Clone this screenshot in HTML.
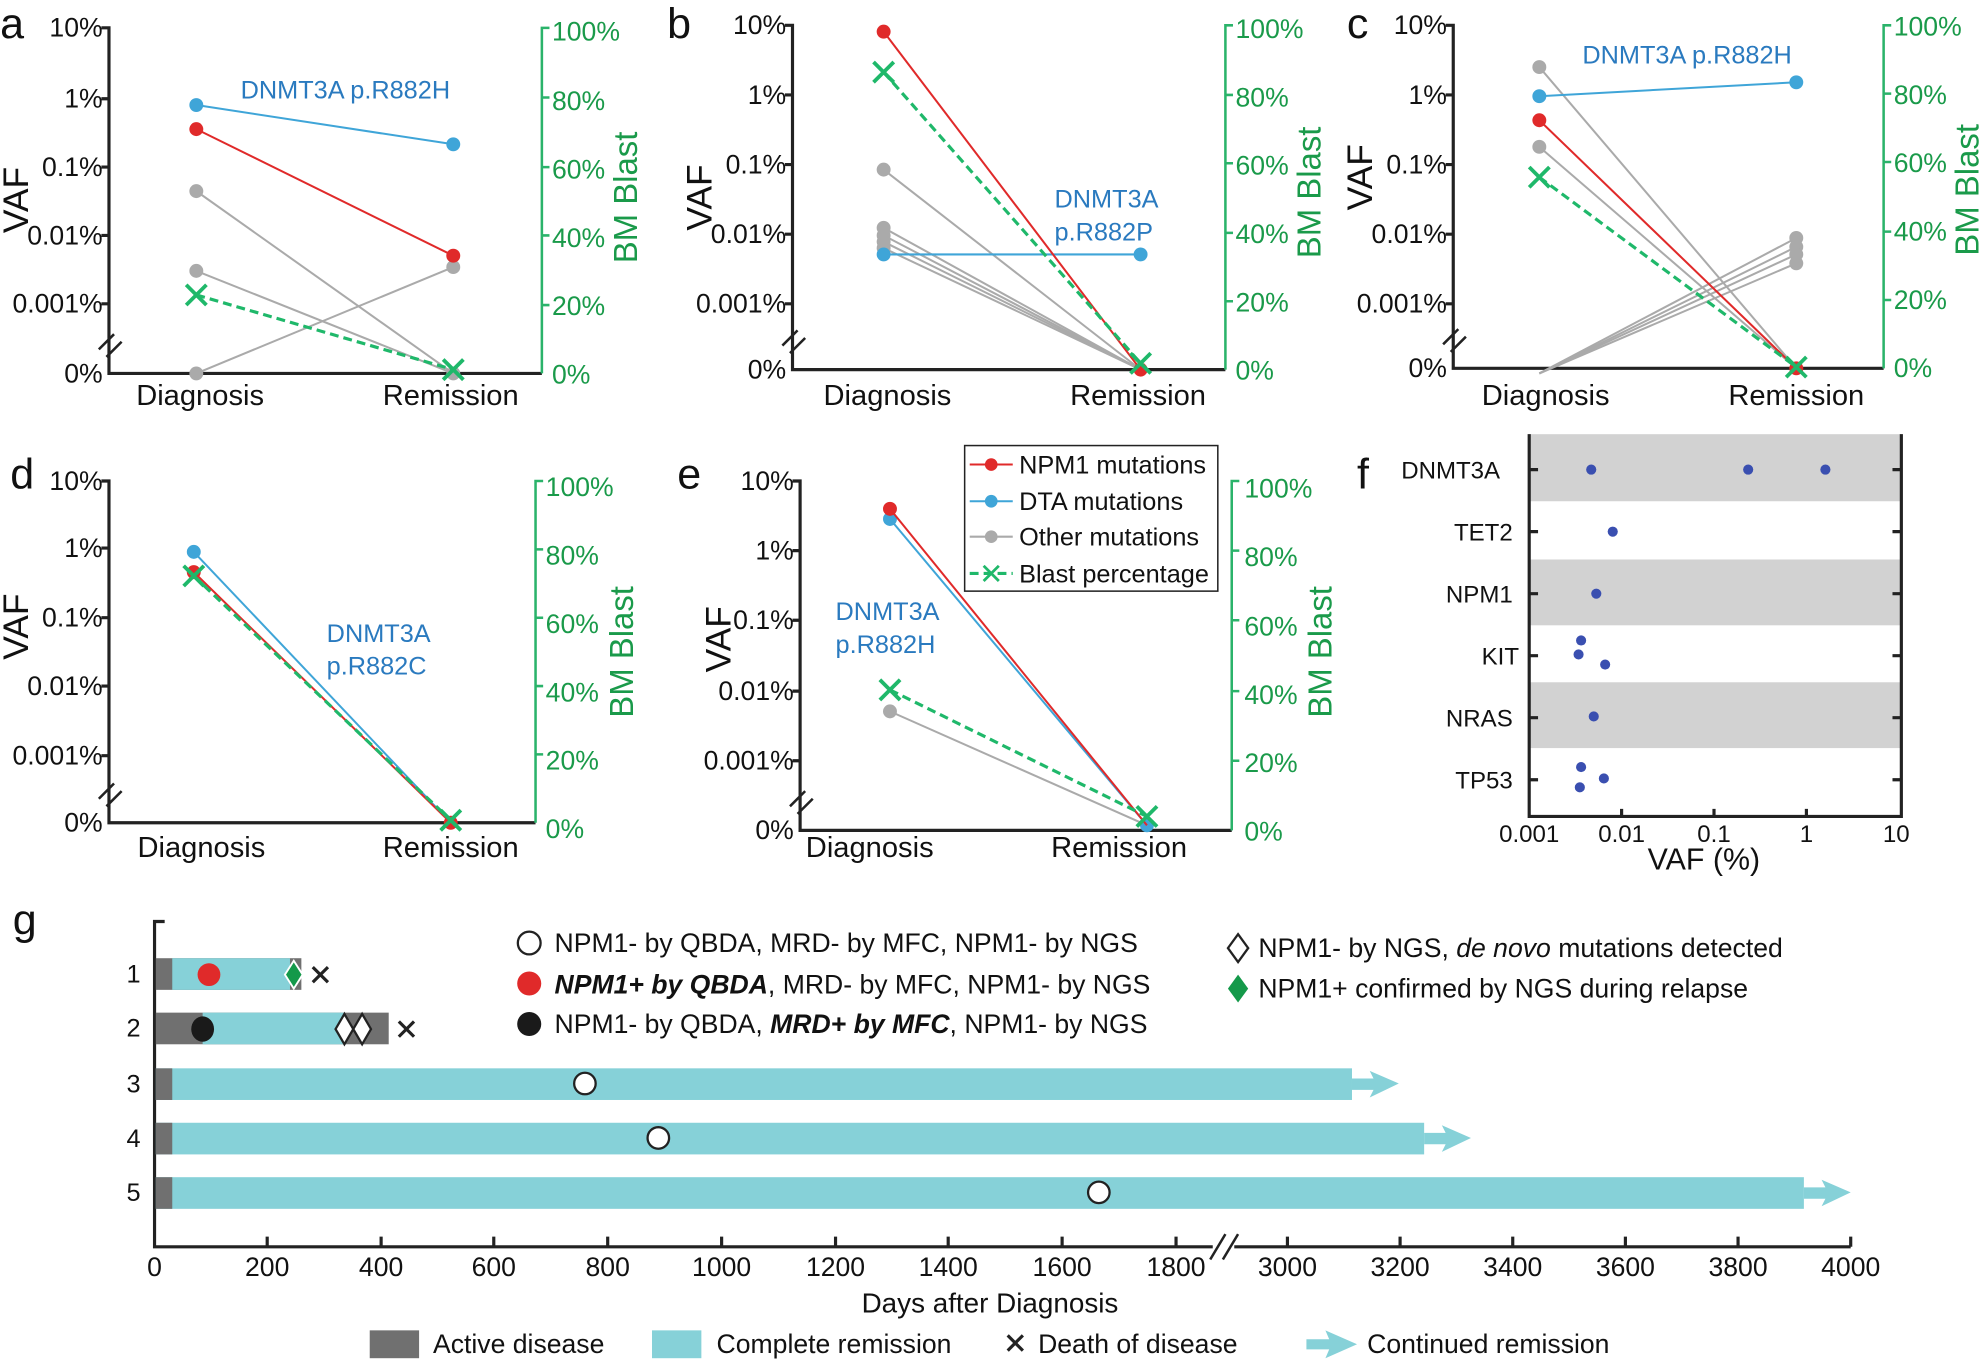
<!DOCTYPE html>
<html><head><meta charset="utf-8"><style>html,body{margin:0;padding:0;background:#fff}svg{display:block}text{font-family:"Liberation Sans",Arial,sans-serif}</style></head>
<body>
<svg width="1985" height="1362" viewBox="0 0 1568 1076" xmlns="http://www.w3.org/2000/svg">
<defs>
<g id="xm"><path d="M-8,-8L8,8M-8,8L8,-8" stroke="#1fb86a" stroke-width="3"/></g>
</defs>
<style>
.ax{stroke:#222;stroke-width:2.5;fill:none}
.gx{stroke:#2ab36a;stroke-width:2;fill:none}
.t{font-size:20px;fill:#111}
.tk{font-size:21px;fill:#111}
.xl{font-size:23px;fill:#111}
.g{font-size:21px;fill:#1a9a4a}
.bl{font-size:20px;fill:#2a7abf}
.pl{font-size:34px;fill:#111}
.red{stroke:#e02a2a;stroke-width:1.6}
.blu{stroke:#3fa5d8;stroke-width:1.6}
.gry{stroke:#aaa;stroke-width:1.6}
.grn{stroke:#1fb86a;stroke-width:2.5;stroke-dasharray:7,4}
</style>

<!-- Panel a -->
<text x="0" y="30" class="pl">a</text>
<path class="ax" d="M80,22H86V295H428M80,78H86M80,132H86M80,186H86M80,240H86"/>
<path d="M78,276L90,264M84,282L96,270" stroke="#222" stroke-width="2"/>
<path class="gx" d="M434,22H428V295M428,77H434M428,132H434M428,186H434M428,241H434"/>
<g class="tk" text-anchor="end"><text x="81" y="29">10%</text><text x="81" y="85">1%</text><text x="81" y="139">0.1%</text><text x="81" y="193">0.01%</text><text x="81" y="247">0.001%</text><text x="81" y="302">0%</text></g>
<g class="g"><text x="436" y="32">100%</text><text x="436" y="87">80%</text><text x="436" y="141">60%</text><text x="436" y="195">40%</text><text x="436" y="249">20%</text><text x="436" y="303">0%</text></g>
<text transform="translate(22,158) rotate(-90)" font-size="28" text-anchor="middle" fill="#111">VAF</text>
<text transform="translate(503,156) rotate(-90)" font-size="26" text-anchor="middle" fill="#1a9a4a">BM Blast</text>
<text x="158" y="320" class="xl" text-anchor="middle">Diagnosis</text><text x="356" y="320" class="xl" text-anchor="middle">Remission</text>
<text x="190" y="78" class="bl">DNMT3A p.R882H</text>
<line x1="155" y1="151" x2="358" y2="295" class="gry"/><line x1="155" y1="214" x2="358" y2="295" class="gry"/><line x1="155" y1="295" x2="358" y2="211" class="gry"/>
<g fill="#aaa"><circle cx="155" cy="151" r="5.5"/><circle cx="155" cy="214" r="5.5"/><circle cx="155" cy="295" r="5.5"/><circle cx="358" cy="211" r="5.5"/><circle cx="358" cy="295" r="5.5"/></g>
<line x1="155" y1="83" x2="358" y2="114" class="blu"/><circle cx="155" cy="83" r="5.5" fill="#3fa5d8"/><circle cx="358" cy="114" r="5.5" fill="#3fa5d8"/>
<line x1="155" y1="102" x2="358" y2="202" class="red"/><circle cx="155" cy="102" r="5.5" fill="#e02a2a"/><circle cx="358" cy="202" r="5.5" fill="#e02a2a"/>
<line x1="155" y1="233" x2="358" y2="292" class="grn"/><use href="#xm" x="155" y="233"/><use href="#xm" x="358" y="292"/>

<!-- Panel b -->
<text x="527" y="30" class="pl">b</text>
<path class="ax" d="M620,20H626V292H968M620,75H626M620,130H626M620,185H626M620,240H626"/>
<path d="M618,273L630,261M624,279L636,267" stroke="#222" stroke-width="2"/>
<path class="gx" d="M974,20H968V292M968,75H974M968,129H974M968,184H974M968,238H974"/>
<g class="tk" text-anchor="end"><text x="621" y="27">10%</text><text x="621" y="82">1%</text><text x="621" y="137">0.1%</text><text x="621" y="192">0.01%</text><text x="621" y="247">0.001%</text><text x="621" y="299">0%</text></g>
<g class="g"><text x="976" y="30">100%</text><text x="976" y="84">80%</text><text x="976" y="138">60%</text><text x="976" y="192">40%</text><text x="976" y="246">20%</text><text x="976" y="300">0%</text></g>
<text transform="translate(562,156) rotate(-90)" font-size="28" text-anchor="middle" fill="#111">VAF</text>
<text transform="translate(1043,152) rotate(-90)" font-size="26" text-anchor="middle" fill="#1a9a4a">BM Blast</text>
<text x="701" y="320" class="xl" text-anchor="middle">Diagnosis</text><text x="899" y="320" class="xl" text-anchor="middle">Remission</text>
<text x="833" y="164" class="bl">DNMT3A</text><text x="833" y="190" class="bl">p.R882P</text>
<g class="gry"><line x1="698" y1="134" x2="901" y2="292"/><line x1="698" y1="180" x2="901" y2="292"/><line x1="698" y1="186" x2="901" y2="292"/><line x1="698" y1="191" x2="901" y2="292"/><line x1="698" y1="196" x2="901" y2="292"/></g>
<g fill="#aaa"><circle cx="698" cy="134" r="5.5"/><circle cx="698" cy="180" r="5.5"/><circle cx="698" cy="186" r="5.5"/><circle cx="698" cy="191" r="5.5"/><circle cx="698" cy="196" r="5.5"/></g>
<line x1="698" y1="201" x2="901" y2="201" class="blu"/><circle cx="698" cy="201" r="5.5" fill="#3fa5d8"/><circle cx="901" cy="201" r="5.5" fill="#3fa5d8"/>
<line x1="698" y1="25" x2="901" y2="292" class="red"/><circle cx="698" cy="25" r="5.5" fill="#e02a2a"/><circle cx="901" cy="292" r="5.5" fill="#e02a2a"/>
<line x1="698" y1="57" x2="901" y2="287" class="grn"/><use href="#xm" x="698" y="57"/><use href="#xm" x="901" y="287"/>

<!-- Panel c -->
<text x="1064" y="30" class="pl">c</text>
<path class="ax" d="M1142,20H1148V291H1488M1142,75H1148M1142,130H1148M1142,185H1148M1142,240H1148"/>
<path d="M1140,272L1152,260M1146,278L1158,266" stroke="#222" stroke-width="2"/>
<path class="gx" d="M1494,20H1488V291M1488,74H1494M1488,128H1494M1488,183H1494M1488,237H1494"/>
<g class="tk" text-anchor="end"><text x="1143" y="27">10%</text><text x="1143" y="82">1%</text><text x="1143" y="137">0.1%</text><text x="1143" y="192">0.01%</text><text x="1143" y="247">0.001%</text><text x="1143" y="298">0%</text></g>
<g class="g"><text x="1496" y="28">100%</text><text x="1496" y="82">80%</text><text x="1496" y="136">60%</text><text x="1496" y="190">40%</text><text x="1496" y="244">20%</text><text x="1496" y="298">0%</text></g>
<text transform="translate(1084,140) rotate(-90)" font-size="28" text-anchor="middle" fill="#111">VAF</text>
<text transform="translate(1563,150) rotate(-90)" font-size="26" text-anchor="middle" fill="#1a9a4a">BM Blast</text>
<text x="1221" y="320" class="xl" text-anchor="middle">Diagnosis</text><text x="1419" y="320" class="xl" text-anchor="middle">Remission</text>
<text x="1250" y="50" class="bl">DNMT3A p.R882H</text>
<g class="gry"><line x1="1216" y1="53" x2="1419" y2="291"/><line x1="1216" y1="116" x2="1419" y2="291"/><line x1="1216" y1="295" x2="1419" y2="188"/><line x1="1216" y1="295" x2="1419" y2="195"/><line x1="1216" y1="295" x2="1419" y2="201"/><line x1="1216" y1="295" x2="1419" y2="208"/></g>
<g fill="#aaa"><circle cx="1216" cy="53" r="5.5"/><circle cx="1216" cy="116" r="5.5"/><circle cx="1419" cy="188" r="5.5"/><circle cx="1419" cy="195" r="5.5"/><circle cx="1419" cy="201" r="5.5"/><circle cx="1419" cy="208" r="5.5"/></g>
<line x1="1216" y1="76" x2="1419" y2="65" class="blu"/><circle cx="1216" cy="76" r="5.5" fill="#3fa5d8"/><circle cx="1419" cy="65" r="5.5" fill="#3fa5d8"/>
<line x1="1216" y1="95" x2="1419" y2="291" class="red"/><circle cx="1216" cy="95" r="5.5" fill="#e02a2a"/><circle cx="1419" cy="291" r="5.5" fill="#e02a2a"/>
<line x1="1216" y1="140" x2="1419" y2="290" class="grn"/><use href="#xm" x="1216" y="140"/><use href="#xm" x="1419" y="290"/>

<!-- Panel d -->
<text x="8" y="386" class="pl">d</text>
<path class="ax" d="M80,380H86V650H423M80,433H86M80,488H86M80,542H86M80,597H86"/>
<path d="M78,631L90,619M84,637L96,625" stroke="#222" stroke-width="2"/>
<path class="gx" d="M429,380H423V650M423,434H429M423,488H429M423,542H429M423,596H429"/>
<g class="tk" text-anchor="end"><text x="81" y="387">10%</text><text x="81" y="440">1%</text><text x="81" y="495">0.1%</text><text x="81" y="549">0.01%</text><text x="81" y="604">0.001%</text><text x="81" y="657">0%</text></g>
<g class="g"><text x="431" y="392">100%</text><text x="431" y="446">80%</text><text x="431" y="500">60%</text><text x="431" y="554">40%</text><text x="431" y="608">20%</text><text x="431" y="662">0%</text></g>
<text transform="translate(22,495) rotate(-90)" font-size="28" text-anchor="middle" fill="#111">VAF</text>
<text transform="translate(500,515) rotate(-90)" font-size="26" text-anchor="middle" fill="#1a9a4a">BM Blast</text>
<text x="159" y="677" class="xl" text-anchor="middle">Diagnosis</text><text x="356" y="677" class="xl" text-anchor="middle">Remission</text>
<text x="258" y="507" class="bl">DNMT3A</text><text x="258" y="533" class="bl">p.R882C</text>
<line x1="153" y1="436" x2="356" y2="650" class="blu"/><circle cx="153" cy="436" r="5.5" fill="#3fa5d8"/>
<line x1="153" y1="452" x2="356" y2="650" class="red"/><circle cx="153" cy="452" r="5.5" fill="#e02a2a"/><circle cx="356" cy="650" r="5.5" fill="#e02a2a"/>
<line x1="153" y1="455" x2="356" y2="648" class="grn"/><use href="#xm" x="153" y="455"/><use href="#xm" x="356" y="648"/>

<!-- Panel e -->
<text x="535" y="386" class="pl">e</text>
<path class="ax" d="M626,380H632V656H973M626,435H632M626,490H632M626,546H632M626,601H632"/>
<path d="M624,637L636,625M630,643L642,631" stroke="#222" stroke-width="2"/>
<path class="gx" d="M979,380H973V656M973,435H979M973,490H979M973,546H979M973,601H979"/>
<g class="tk" text-anchor="end"><text x="627" y="387">10%</text><text x="627" y="442">1%</text><text x="627" y="497">0.1%</text><text x="627" y="553">0.01%</text><text x="627" y="608">0.001%</text><text x="627" y="663">0%</text></g>
<g class="g"><text x="983" y="393">100%</text><text x="983" y="447">80%</text><text x="983" y="502">60%</text><text x="983" y="556">40%</text><text x="983" y="610">20%</text><text x="983" y="664">0%</text></g>
<text transform="translate(577,505) rotate(-90)" font-size="28" text-anchor="middle" fill="#111">VAF</text>
<text transform="translate(1052,515) rotate(-90)" font-size="26" text-anchor="middle" fill="#1a9a4a">BM Blast</text>
<text x="687" y="677" class="xl" text-anchor="middle">Diagnosis</text><text x="884" y="677" class="xl" text-anchor="middle">Remission</text>
<text x="660" y="490" class="bl">DNMT3A</text><text x="660" y="516" class="bl">p.R882H</text>
<line x1="703" y1="562" x2="906" y2="652" class="gry"/><circle cx="703" cy="562" r="5.5" fill="#aaa"/>
<line x1="703" y1="410" x2="906" y2="652" class="blu"/><circle cx="703" cy="410" r="5.5" fill="#3fa5d8"/><circle cx="906" cy="652" r="5.5" fill="#3fa5d8"/>
<line x1="703" y1="402" x2="906" y2="652" class="red"/><circle cx="703" cy="402" r="5.5" fill="#e02a2a"/>
<line x1="703" y1="545" x2="906" y2="645" class="grn"/><use href="#xm" x="703" y="545"/><use href="#xm" x="906" y="645"/>
<!-- legend -->
<rect x="762" y="352" width="200" height="115" fill="#fff" stroke="#222" stroke-width="1.2"/>
<line x1="766" y1="367" x2="800" y2="367" class="red"/><circle cx="783" cy="367" r="5" fill="#e02a2a"/><text x="805" y="374" class="t">NPM1 mutations</text>
<line x1="766" y1="396" x2="800" y2="396" class="blu"/><circle cx="783" cy="396" r="5" fill="#3fa5d8"/><text x="805" y="403" class="t">DTA mutations</text>
<line x1="766" y1="424" x2="800" y2="424" class="gry"/><circle cx="783" cy="424" r="5" fill="#aaa"/><text x="805" y="431" class="t">Other mutations</text>
<line x1="766" y1="453" x2="800" y2="453" class="grn" stroke-width="2"/><path d="M777,447L789,459M777,459L789,447" stroke="#1fb86a" stroke-width="2.2"/><text x="805" y="460" class="t">Blast percentage</text>

<!-- Panel f -->
<text x="1072" y="386" class="pl">f</text>
<rect x="1208" y="343" width="294" height="53" fill="#d2d2d2"/>
<rect x="1208" y="442" width="294" height="52" fill="#d2d2d2"/>
<rect x="1208" y="539" width="294" height="52" fill="#d2d2d2"/>
<path class="ax" stroke-width="2" d="M1208,343V645H1502V343M1208,371H1215M1208,420H1215M1208,469H1215M1208,518H1215M1208,567H1215M1208,616H1215M1502,371H1495M1502,420H1495M1502,469H1495M1502,518H1495M1502,567H1495M1502,616H1495M1281,645V639M1354,645V639M1427,645V639"/>
<g text-anchor="end" style="font-size:19px;fill:#111"><text x="1185" y="378">DNMT3A</text><text x="1195" y="427">TET2</text><text x="1195" y="476">NPM1</text><text x="1200" y="525">KIT</text><text x="1195" y="574">NRAS</text><text x="1195" y="623">TP53</text></g>
<g text-anchor="middle" style="font-size:19px;fill:#111"><text x="1208" y="665">0.001</text><text x="1281" y="665">0.01</text><text x="1354" y="665">0.1</text><text x="1427" y="665">1</text><text x="1498" y="665">10</text></g>
<text x="1346" y="687" text-anchor="middle" style="font-size:24px;fill:#111">VAF (%)</text>
<g fill="#3a4fb0"><circle cx="1257" cy="371" r="4"/><circle cx="1381" cy="371" r="4"/><circle cx="1442" cy="371" r="4"/><circle cx="1274" cy="420" r="4"/><circle cx="1261" cy="469" r="4"/><circle cx="1249" cy="506" r="4"/><circle cx="1247" cy="517" r="4"/><circle cx="1268" cy="525" r="4"/><circle cx="1259" cy="566" r="4"/><circle cx="1249" cy="606" r="4"/><circle cx="1248" cy="622" r="4"/><circle cx="1267" cy="615" r="4"/></g>

<!-- Panel g -->
<text x="10" y="738" class="pl">g</text>
<path class="ax" d="M130,728H122V985H958M975,985H1462M211,985V977M301,985V977M390,985V977M480,985V977M570,985V977M660,985V977M749,985V977M839,985V977M929,985V977M1017,985V977M1106,985V977M1195,985V977M1284,985V977M1373,985V977M1462,985V977"/>
<path d="M956,995L968,975M966,995L978,975" stroke="#222" stroke-width="2"/>
<g class="tk" text-anchor="middle"><text x="122" y="1008">0</text><text x="211" y="1008">200</text><text x="301" y="1008">400</text><text x="390" y="1008">600</text><text x="480" y="1008">800</text><text x="570" y="1008">1000</text><text x="660" y="1008">1200</text><text x="749" y="1008">1400</text><text x="839" y="1008">1600</text><text x="929" y="1008">1800</text><text x="1017" y="1008">3000</text><text x="1106" y="1008">3200</text><text x="1195" y="1008">3400</text><text x="1284" y="1008">3600</text><text x="1373" y="1008">3800</text><text x="1462" y="1008">4000</text></g>
<text x="782" y="1037" text-anchor="middle" style="font-size:22px;fill:#111">Days after Diagnosis</text>
<g class="t" text-anchor="end"><text x="111" y="776">1</text><text x="111" y="819">2</text><text x="111" y="863">3</text><text x="111" y="906">4</text><text x="111" y="949">5</text></g>
<!-- row1 -->
<rect x="123" y="757" width="115" height="25" fill="#707070"/><rect x="136" y="757" width="93" height="25" fill="#86d1d8"/>
<circle cx="165" cy="770" r="9" fill="#e02a2a"/>
<path d="M232,759L239,770L232,781L225,770Z" fill="#14994a" stroke="#fff" stroke-width="1.5"/>
<path d="M247,764L259,776M247,776L259,764" stroke="#222" stroke-width="2.5"/>
<!-- row2 -->
<rect x="123" y="800" width="184" height="25" fill="#707070"/><rect x="160" y="800" width="112" height="25" fill="#86d1d8"/>
<ellipse cx="160" cy="813" rx="9" ry="10" fill="#1a1a1a"/>
<path d="M272,801L279,813L272,825L265,813Z M286,801L293,813L286,825L279,813Z" fill="#fff" stroke="#222" stroke-width="1.8"/>
<path d="M315,807L327,819M315,819L327,807" stroke="#222" stroke-width="2.5"/>
<!-- rows 3-5 -->
<g fill="#86d1d8">
<rect x="123" y="844" width="945" height="25"/><path d="M1068,852H1085L1082,846L1105,856L1082,867L1085,861H1068Z"/>
<rect x="123" y="887" width="1002" height="25"/><path d="M1125,895H1142L1139,889L1162,899L1139,910L1142,904H1125Z"/>
<rect x="123" y="930" width="1302" height="25"/><path d="M1425,938H1442L1439,932L1462,942L1439,953L1442,947H1425Z"/>
</g>
<g fill="#707070"><rect x="123" y="844" width="13" height="25"/><rect x="123" y="887" width="13" height="25"/><rect x="123" y="930" width="13" height="25"/></g>
<g fill="#fff" stroke="#222" stroke-width="1.8"><circle cx="462" cy="856" r="8.5"/><circle cx="520" cy="899" r="8.5"/><circle cx="868" cy="942" r="8.5"/></g>
<!-- legend top -->
<circle cx="418" cy="745" r="9" fill="#fff" stroke="#222" stroke-width="1.8"/>
<text x="438" y="752" class="tk">NPM1- by QBDA, MRD- by MFC, NPM1- by NGS</text>
<circle cx="418" cy="777" r="9.5" fill="#e02a2a"/>
<text x="438" y="785" class="tk"><tspan font-weight="bold" font-style="italic">NPM1+ by QBDA</tspan>, MRD- by MFC, NPM1- by NGS</text>
<circle cx="418" cy="809" r="9.5" fill="#1a1a1a"/>
<text x="438" y="816" class="tk">NPM1- by QBDA, <tspan font-weight="bold" font-style="italic">MRD+ by MFC</tspan>, NPM1- by NGS</text>
<path d="M978,738L986,749L978,760L970,749Z" fill="#fff" stroke="#222" stroke-width="1.8"/>
<text x="994" y="756" class="tk">NPM1- by NGS, <tspan font-style="italic">de novo</tspan> mutations detected</text>
<path d="M978,770L986,781L978,792L970,781Z" fill="#14994a"/>
<text x="994" y="788" class="tk">NPM1+ confirmed by NGS during relapse</text>
<!-- legend bottom -->
<rect x="292" y="1051" width="39" height="22" fill="#707070"/><text x="342" y="1069" class="tk">Active disease</text>
<rect x="515" y="1051" width="39" height="22" fill="#86d1d8"/><text x="566" y="1069" class="tk">Complete remission</text>
<path d="M796,1055L808,1067M796,1067L808,1055" stroke="#222" stroke-width="2.5"/><text x="820" y="1069" class="tk">Death of disease</text>
<path d="M1032,1058H1050L1047,1051L1072,1062L1047,1073L1050,1066H1032Z" fill="#86d1d8"/><text x="1080" y="1069" class="tk">Continued remission</text>
</svg>
</body></html>
